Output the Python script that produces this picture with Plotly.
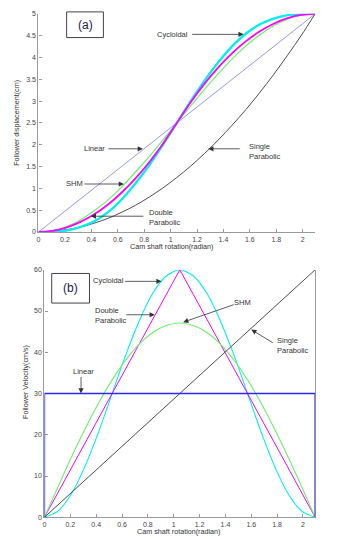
import plotly.graph_objects as go

# ---------------- data ----------------
theta = [0, 0.105, 0.209, 0.314, 0.419, 0.524, 0.628, 0.733, 0.838, 0.942, 1.047,
         1.152, 1.257, 1.361, 1.466, 1.571, 1.676, 1.780, 1.885, 1.990, 2.094]

disp_linear = [0, 0.25, 0.5, 0.75, 1.0, 1.25, 1.5, 1.75, 2.0, 2.25, 2.5,
               2.75, 3.0, 3.25, 3.5, 3.75, 4.0, 4.25, 4.5, 4.75, 5.0]
disp_single_parabolic = [0, 0.01, 0.05, 0.11, 0.20, 0.31, 0.45, 0.61, 0.80, 1.01, 1.25,
                         1.51, 1.80, 2.11, 2.45, 2.81, 3.20, 3.61, 4.05, 4.51, 5.0]
disp_shm = [0, 0.03, 0.12, 0.27, 0.48, 0.73, 1.03, 1.37, 1.73, 2.11, 2.5,
            2.89, 3.27, 3.63, 3.97, 4.27, 4.52, 4.73, 4.88, 4.97, 5.0]
disp_cycloidal = [0, 0.004, 0.03, 0.11, 0.24, 0.45, 0.74, 1.11, 1.53, 2.0, 2.5,
                  3.0, 3.47, 3.89, 4.26, 4.55, 4.76, 4.89, 4.97, 4.996, 5.0]
disp_double_parabolic = [0, 0.025, 0.1, 0.225, 0.4, 0.625, 0.9, 1.225, 1.6, 2.025, 2.5,
                         2.975, 3.4, 3.775, 4.1, 4.375, 4.6, 4.775, 4.9, 4.975, 5.0]

theta_linear_v = [0, 0, 2.094, 2.094]
vel_linear = [0, 30, 30, 0]
vel_single_parabolic = [0, 3, 6, 9, 12, 15, 18, 21, 24, 27, 30,
                        33, 36, 39, 42, 45, 48, 51, 54, 57, 60]
vel_shm = [0, 7.4, 14.6, 21.4, 27.7, 33.3, 38.1, 42.0, 44.8, 46.5, 47.1,
           46.5, 44.8, 42.0, 38.1, 33.3, 27.7, 21.4, 14.6, 7.4, 0]
vel_cycloidal = [0, 1.5, 5.7, 12.4, 20.7, 30.0, 39.3, 47.6, 54.3, 58.5, 60.0,
                 58.5, 54.3, 47.6, 39.3, 30.0, 20.7, 12.4, 5.7, 1.5, 0]
vel_double_parabolic = [0, 6, 12, 18, 24, 30, 36, 42, 48, 54, 60,
                        54, 48, 42, 36, 30, 24, 18, 12, 6, 0]

x_ticks = [0, 0.2, 0.4, 0.6, 0.8, 1, 1.2, 1.4, 1.6, 1.8, 2]
x_tick_labels = ["0", "0.2", "0.4", "0.6", "0.8", "1", "1.2", "1.4", "1.6", "1.8", "2"]
disp_ticks = [0, 0.5, 1, 1.5, 2, 2.5, 3, 3.5, 4, 4.5, 5]
disp_tick_labels = ["0", "0.5", "1", "1.5", "2", "2.5", "3", "3.5", "4", "4.5", "5"]
vel_ticks = [0, 10, 20, 30, 40, 50, 60]
vel_tick_labels = ["0", "10", "20", "30", "40", "50", "60"]

# ---------------- layout geometry ----------------
W, H = 345, 539
def px(x):
    return x / W
def py(y):
    return 1 - y / H

TX0, TX1, TY0, TY1 = 36.7, 315.0, 231.0, 10.0     # top panel (pixels)
BX0, BX1, BY0, BY1 = 42.7, 315.0, 520.0, 269.3    # bottom panel (pixels)
BETA = 2.0944

CYAN = "#00F0F0"
MAGENTA = "#FF00FF"
GREEN = "#6CF06C"
BLUE_LIGHT = "#8C8CFF"
BLUE = "#2A2AF0"
BLACK = "#3A3A3A"

fig = go.Figure()

# top panel traces
fig.add_trace(go.Scatter(x=theta, y=disp_linear, mode="lines", xaxis="x", yaxis="y",
                         line=dict(color=BLUE_LIGHT, width=0.9)))
fig.add_trace(go.Scatter(x=theta, y=disp_single_parabolic, mode="lines", xaxis="x", yaxis="y",
                         line=dict(color=BLACK, width=0.9, shape="spline")))
fig.add_trace(go.Scatter(x=theta, y=disp_shm, mode="lines", xaxis="x", yaxis="y",
                         line=dict(color=GREEN, width=1.2, shape="spline")))
fig.add_trace(go.Scatter(x=theta, y=disp_cycloidal, mode="lines", xaxis="x", yaxis="y",
                         line=dict(color=CYAN, width=2.3, shape="spline")))
fig.add_trace(go.Scatter(x=theta, y=disp_double_parabolic, mode="lines", xaxis="x", yaxis="y",
                         line=dict(color=MAGENTA, width=1.8, shape="spline")))

# bottom panel traces
fig.add_trace(go.Scatter(x=theta, y=vel_cycloidal, mode="lines", xaxis="x2", yaxis="y2",
                         line=dict(color=CYAN, width=1.1, shape="spline", smoothing=0.8)))
fig.add_trace(go.Scatter(x=theta, y=vel_double_parabolic, mode="lines", xaxis="x2", yaxis="y2",
                         line=dict(color=MAGENTA, width=1.0)))
fig.add_trace(go.Scatter(x=theta, y=vel_shm, mode="lines", xaxis="x2", yaxis="y2",
                         line=dict(color=GREEN, width=1.1, shape="spline", smoothing=0.8)))
fig.add_trace(go.Scatter(x=theta, y=vel_single_parabolic, mode="lines", xaxis="x2", yaxis="y2",
                         line=dict(color=BLACK, width=0.9)))
fig.add_trace(go.Scatter(x=theta_linear_v, y=vel_linear, mode="lines", xaxis="x2", yaxis="y2",
                         line=dict(color=BLUE, width=1.4)))

axis_common = dict(showgrid=False, zeroline=False, showline=True, linecolor="#9a9a9a",
                   linewidth=1.3, ticks="inside", ticklen=3, tickcolor="#9a9a9a",
                   tickfont=dict(family="Arial", size=7, color="#444444"),
                   layer="below traces")

fig.update_layout(
    width=W, height=H, margin=dict(l=0, r=0, t=0, b=0),
    paper_bgcolor="white", plot_bgcolor="white", showlegend=False,
    xaxis=dict(domain=[px(TX0), px(TX1)], range=[0, BETA], anchor="y",
               tickvals=x_ticks, ticktext=x_tick_labels, **axis_common),
    yaxis=dict(domain=[py(TY0), py(TY1)], range=[0, 5], anchor="x",
               tickvals=disp_ticks, ticktext=disp_tick_labels, **axis_common),
    xaxis2=dict(domain=[px(BX0), px(BX1)], range=[0, BETA], anchor="y2",
                tickvals=x_ticks, ticktext=x_tick_labels, **axis_common),
    yaxis2=dict(domain=[py(BY0), py(BY1)], range=[0, 60], anchor="x2", mirror=True,
                tickvals=vel_ticks, ticktext=vel_tick_labels, **axis_common),
)

TXT = dict(family="Arial", size=7.5, color="#333333")
TITLE = dict(family="Arial", size=7.2, color="#333333")
ann = []

def label(text, x, y, xanchor="center", align="center", angle=0, font=TXT):
    ann.append(dict(text=text, x=px(x), y=py(y), xref="paper", yref="paper",
                    xanchor=xanchor, yanchor="middle", align=align, textangle=angle,
                    showarrow=False, font=font))

def arrow(x, y, ax, ay, xr, yr):
    ann.append(dict(text="", x=x, y=y, xref=xr, yref=yr, ax=ax, ay=ay,
                    showarrow=True, arrowhead=2, arrowsize=1.3, arrowwidth=0.8,
                    arrowcolor="#333333", standoff=0, startstandoff=0))

# axis titles
label("Follower displacement(cm)", 15, 120.5, angle=-90, font=TITLE)
label("Cam shaft rotation(radian)", 170.7, 246, font=TITLE)
label("Follower Velocity(cm/s)", 23, 383, angle=-90, font=TITLE)
label("Cam shaft rotation(radian)", 178, 534.5, font=TITLE)

# top panel callouts
label("Cycloidal", 171, 30.7)
arrow(1.553, 4.53, -53, 0, "x", "y")
label("Linear", 93.5, 146.7)
arrow(0.79, 1.907, -36, 0, "x", "y")
label("SHM", 72.5, 182.3)
arrow(0.647, 1.10, -41, 0, "x", "y")
label("Double<br>Parabolic", 146, 216.5, xanchor="left", align="left")
arrow(0.396, 0.362, 54, 0, "x", "y")
label("Single<br>Parabolic", 246, 149, xanchor="left", align="left")
arrow(1.285, 1.907, 33, 0, "x", "y")

# bottom panel callouts
label("Cycloidal", 107, 280.5)
arrow(0.906, 57.2, -38, 0, "x2", "y2")
label("Double<br>Parabolic", 92, 316, xanchor="left", align="left")
arrow(0.854, 49.1, -30, 0, "x2", "y2")
label("SHM", 241.5, 302.5)
arrow(1.073, 47.3, 52, -18, "x2", "y2")
label("Single<br>Parabolic", 275, 345.5, xanchor="left", align="left")
arrow(1.60, 45.5, 23, 14, "x2", "y2")
label("Linear", 81.5, 372.7)
arrow(0.283, 30, 0, -18, "x2", "y2")

# panel tags
TAG = dict(family="Arial", size=12, color="#1c1c4a")
label("(a)", 83.5, 21, font=TAG)
label("(b)", 69, 288, font=TAG)

fig.update_layout(annotations=ann)

fig.add_shape(type="rect", xref="paper", yref="paper", layer="below",
              x0=px(65), x1=px(102), y0=py(34), y1=py(8),
              line=dict(color="#444444", width=1), fillcolor="white")
fig.add_shape(type="rect", xref="paper", yref="paper", layer="below",
              x0=px(50), x1=px(88), y0=py(303), y1=py(273),
              line=dict(color="#444444", width=1), fillcolor="white")

fig.write_html("out.html")
